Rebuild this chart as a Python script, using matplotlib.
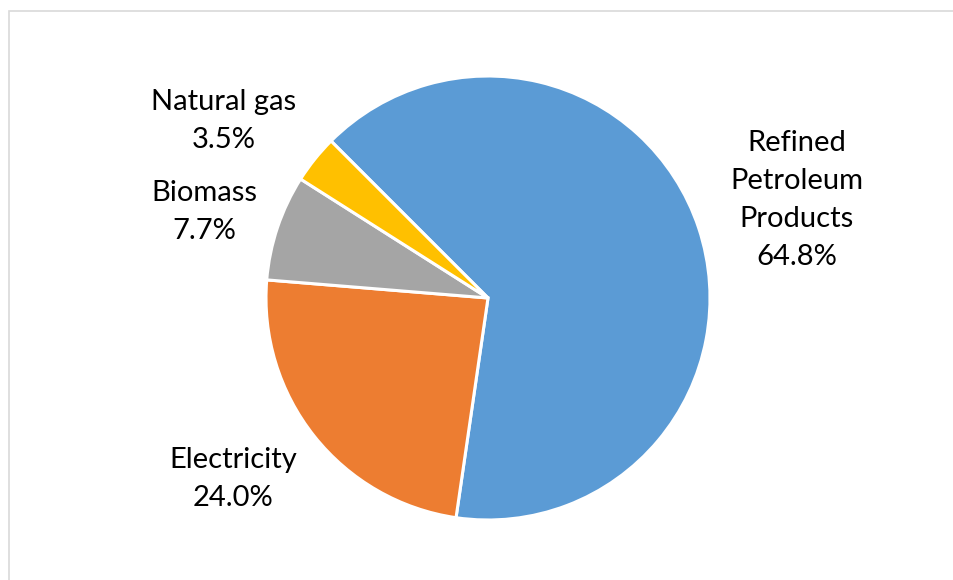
import matplotlib
matplotlib.use('Agg')
import matplotlib.pyplot as plt
from matplotlib.patches import Rectangle

# data
sources = ['Refined\nPetroleum\nProducts', 'Electricity', 'Biomass', 'Natural gas']
shares = [64.8, 24.0, 7.7, 3.5]
colors = ['#5B9BD5', '#ED7D31', '#A5A5A5', '#FFC000']

# label centres in pixels (x from left, y from top)
label_px = [(797, 200), (233, 479), (204, 212), (224, 121)]

W, H = 954, 580
cx, cy, r = 488, 298, 222

fig = plt.figure(figsize=(W / 100, H / 100), dpi=100)
ax = fig.add_axes([0, 0, 1, 1])
ax.pie(shares, colors=colors, startangle=135, counterclock=False,
       radius=1.0, wedgeprops=dict(edgecolor='white', linewidth=2.2))
ax.set_xlim(-cx / r, (W - cx) / r)
ax.set_ylim(-(H - cy) / r, cy / r)
ax.set_aspect('auto')
ax.axis('off')

for name, val, (px, py) in zip(sources, shares, label_px):
    ax.text((px - cx) / r, (cy - py) / r, '%s\n%.1f%%' % (name, val),
            ha='center', va='center', fontsize=21, family='Lato',
            linespacing=1.58, color='black')

# light chart-area border (left and top edges visible)
fig.patches.append(Rectangle((9 / W, -0.05), 1.2, 1.05 - 11 / H,
                             transform=fig.transFigure, fill=False,
                             edgecolor='#D9D9D9', linewidth=1.2))

fig.savefig('out.png', dpi=100)
